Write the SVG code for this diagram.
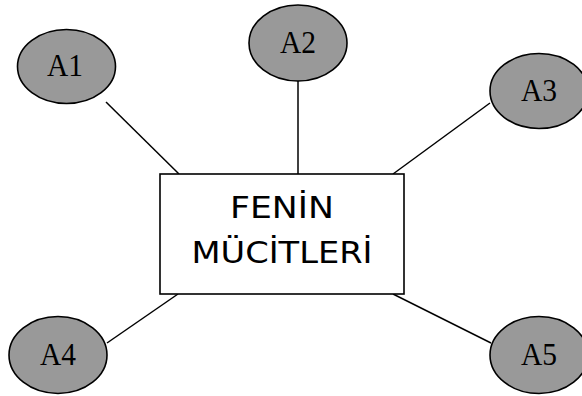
<svg xmlns="http://www.w3.org/2000/svg" width="582" height="396" viewBox="0 0 582 396">
  <style>
    .bubble { fill: #999999; stroke: #000000; stroke-width: 1.6; }
    .bubble-label { font-family: "Liberation Serif", "Times New Roman", serif; font-size: 31px; fill: #000000; text-anchor: middle; }
    .hub { fill: #ffffff; stroke: #000000; stroke-width: 1.6; }
    .hub-label { font-family: "Comic Sans MS", "DejaVu Sans", sans-serif; font-size: 30px; fill: #000000; text-anchor: middle; }
    .link { stroke: #000000; stroke-width: 1.5; fill: none; }
  </style>
  <rect width="582" height="396" fill="#ffffff"/>

  <g id="connectors">
    <line class="link" x1="106" y1="102" x2="179" y2="174"/>
    <line class="link" x1="298" y1="81" x2="298" y2="174"/>
    <line class="link" x1="490" y1="103" x2="393" y2="174"/>
    <line class="link" x1="178" y1="294" x2="107" y2="343"/>
    <line class="link" x1="393" y1="294" x2="491" y2="343"/>
  </g>

  <g id="hub">
    <rect class="hub" x="160" y="174" width="244" height="120"/>
    <text class="hub-label" x="282" y="218" textLength="104" lengthAdjust="spacingAndGlyphs">FENİN</text>
    <text class="hub-label" x="282" y="263" textLength="181" lengthAdjust="spacingAndGlyphs">MÜCİTLERİ</text>
  </g>

  <g id="a1">
    <ellipse class="bubble" cx="66.5" cy="66.5" rx="49" ry="37"/>
    <text class="bubble-label" x="65" y="76" textLength="36" lengthAdjust="spacingAndGlyphs">A1</text>
  </g>
  <g id="a2">
    <ellipse class="bubble" cx="298" cy="43" rx="49" ry="38"/>
    <text class="bubble-label" x="298" y="53" textLength="36" lengthAdjust="spacingAndGlyphs">A2</text>
  </g>
  <g id="a3">
    <ellipse class="bubble" cx="539" cy="91" rx="49" ry="37.5"/>
    <text class="bubble-label" x="539" y="101" textLength="36" lengthAdjust="spacingAndGlyphs">A3</text>
  </g>
  <g id="a4">
    <ellipse class="bubble" cx="58" cy="355" rx="49" ry="38.5"/>
    <text class="bubble-label" x="58" y="365" textLength="36" lengthAdjust="spacingAndGlyphs">A4</text>
  </g>
  <g id="a5">
    <ellipse class="bubble" cx="539" cy="355" rx="49" ry="38.5"/>
    <text class="bubble-label" x="539" y="365" textLength="36" lengthAdjust="spacingAndGlyphs">A5</text>
  </g>
</svg>
